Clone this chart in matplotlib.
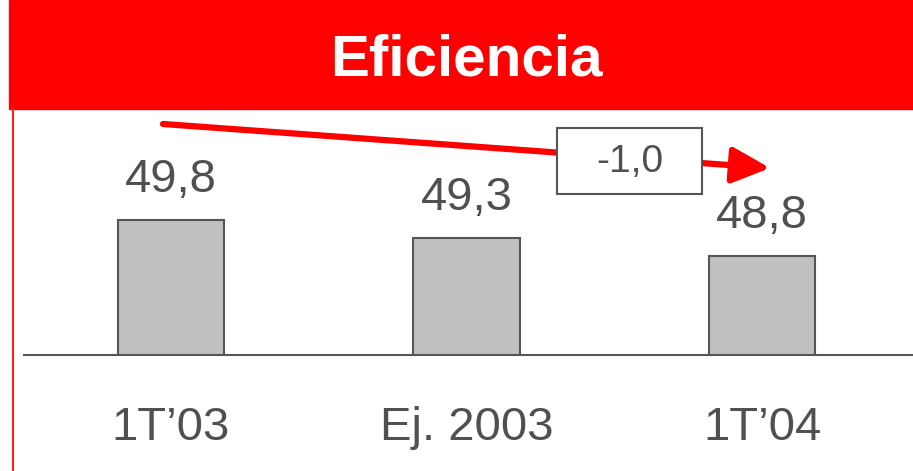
import matplotlib.pyplot as plt
from matplotlib.patches import Rectangle
from matplotlib.lines import Line2D

plt.rcParams['font.family'] = ['Liberation Sans', 'DejaVu Sans']

categories = ['1T\u201903', 'Ej. 2003', '1T\u201904']
values = [49.8, 49.3, 48.8]
value_labels = ['49,8', '49,3', '48,8']
change_label = '-1,0'
title = 'Eficiencia'

W, H = 913, 471
fig = plt.figure(figsize=(W / 100, H / 100), dpi=100)

def fx(px):
    return px / W

def fy(py):
    return 1 - py / H

# header band
fig.patches.append(Rectangle((fx(9), fy(109)), fx(913) - fx(9), 1 - fy(109),
                             transform=fig.transFigure, color='#ff0000', zorder=0))
fig.text(fx(466), fy(60), title, color='white', fontsize=42, fontweight='bold',
         ha='center', va='center')
# red left rule
fig.lines.append(Line2D([fx(13), fx(13)], [fy(109), 0], transform=fig.transFigure,
                        color='#ff2020', lw=1.5))

# bar axes: from x=24 to 913 px, y=109 to 355 px
ax = fig.add_axes([fx(24), fy(355), fx(913) - fx(24), fy(109) - fy(355)])
x = range(len(categories))
ax.bar(x, values, width=0.359, bottom=0, color='#c0c0c0', edgecolor='#555555', lw=1.5, zorder=2)
ax.set_xlim(-0.4975, 2.511)
ax.set_ylim(46.05, 52.88)
ax.patch.set_alpha(0)

for i, (v, lab) in enumerate(zip(values, value_labels)):
    ax.annotate(lab, xy=(i, v), xytext=(0, 20), textcoords='offset points',
                ha='center', va='baseline', fontsize=34, color='#505050')

for s in ['top', 'right', 'left']:
    ax.spines[s].set_visible(False)
ax.spines['bottom'].set_color('#555555')
ax.spines['bottom'].set_linewidth(1.5)
ax.set_yticks([])
ax.set_xticks(list(x))
ax.set_xticklabels(categories, fontsize=34, color='#505050')
ax.tick_params(axis='x', length=0, pad=37)

# trend arrow and change box
ax.annotate('', xy=(fx(770), fy(168)), xycoords='figure fraction',
            xytext=(fx(163), fy(124)), textcoords='figure fraction',
            arrowprops=dict(arrowstyle='-|>,head_length=2.3,head_width=1.1',
                            color='#ff0000', lw=4.5, shrinkA=0, shrinkB=0),
            zorder=3)
fig.patches.append(Rectangle((fx(557), fy(194)), fx(702) - fx(557), fy(128) - fy(194),
                             transform=fig.transFigure, fc='white', ec='#555555',
                             lw=1.5, zorder=5))
fig.text(fx(630), fy(162), change_label, fontsize=28, color='#505050', ha='center', va='center',
         zorder=6)

fig.savefig('out.png', dpi=100)
